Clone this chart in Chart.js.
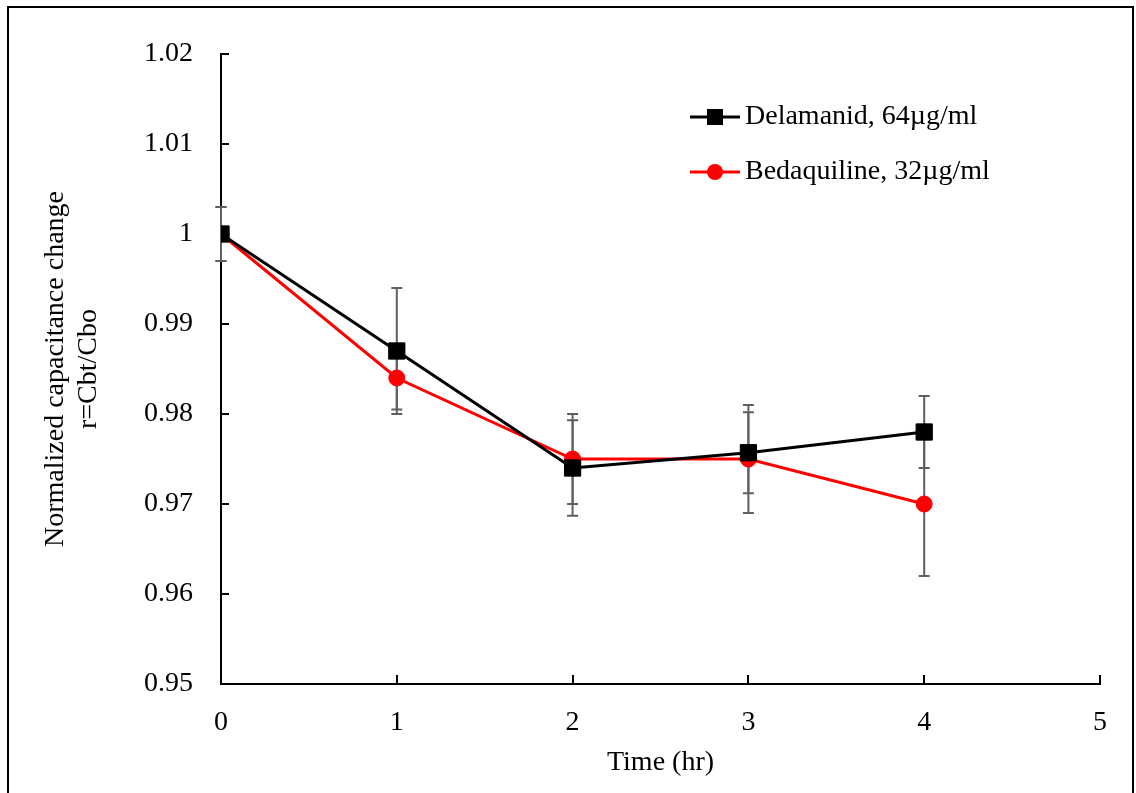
<!DOCTYPE html>
<html>
<head>
<meta charset="utf-8">
<script src="https://cdn.jsdelivr.net/npm/chart.js@4.4.1/dist/chart.umd.min.js"></script>
<style>
  html, body { margin: 0; padding: 0; background: #fff; overflow: hidden; }
  #wrap { position: relative; width: 1136px; height: 793px; }
  #frame { position: absolute; left: 7px; top: 6px; width: 1127px; height: 820px;
           box-sizing: border-box; border: 2.5px solid #000; pointer-events: none; }
</style>
</head>
<body>
<div id="wrap">
  <canvas id="chart" width="1136" height="793"></canvas>
  <div id="frame"></div>
</div>
<script>
// time points (hr)
const times = [0, 1, 2, 3, 4];

// normalized capacitance change r = Cbt/Cbo
const delamanid = [1.000, 0.987, 0.974, 0.9757, 0.978];
const delamanidErr = [0.003, 0.007, 0.0053, 0.0045, 0.004];

const bedaquiline = [1.000, 0.984, 0.975, 0.975, 0.970];
const bedaquilineErr = [0.003, 0.0035, 0.005, 0.006, 0.008];

const seriesLabels = ['Delamanid, 64\u00b5g/ml', 'Bedaquiline, 32\u00b5g/ml'];

const FONT = '"Liberation Serif", "Times New Roman", serif';

const toPoints = (ys) => times.map((t, i) => ({ x: t, y: ys[i] }));

// error bars, drawn under the lines
const errorBars = {
  id: 'errorBars',
  beforeDatasetsDraw(chart) {
    const { ctx, scales: { x, y } } = chart;
    const errs = [delamanidErr, bedaquilineErr];
    ctx.save();
    ctx.strokeStyle = '#5f5f5f';
    ctx.lineWidth = 2;
    chart.data.datasets.forEach((ds, di) => {
      ds.data.forEach((p, i) => {
        const e = errs[di][i];
        if (!e) return;
        const px = x.getPixelForValue(p.x);
        const top = y.getPixelForValue(p.y + e);
        const bot = y.getPixelForValue(p.y - e);
        ctx.beginPath();
        ctx.moveTo(px, top); ctx.lineTo(px, bot);
        ctx.moveTo(px - 5.5, top); ctx.lineTo(px + 5.5, top);
        ctx.moveTo(px - 5.5, bot); ctx.lineTo(px + 5.5, bot);
        ctx.stroke();
      });
    });
    ctx.restore();
  }
};

// tick marks pointing into the plot
const innerTicks = {
  id: 'innerTicks',
  afterDraw(chart) {
    const { ctx, scales: { x, y }, chartArea } = chart;
    ctx.save();
    ctx.strokeStyle = '#000';
    ctx.lineWidth = 2;
    ctx.beginPath();
    y.ticks.forEach(t => {
      const py = Math.round(y.getPixelForValue(t.value));
      ctx.moveTo(chartArea.left, py); ctx.lineTo(chartArea.left + 8, py);
    });
    x.ticks.forEach(t => {
      const px = Math.round(x.getPixelForValue(t.value));
      ctx.moveTo(px, chartArea.bottom); ctx.lineTo(px, chartArea.bottom - 9);
    });
    ctx.stroke();
    ctx.restore();
  }
};

// legend: line with marker, then label
const lineLegend = {
  id: 'lineLegend',
  afterDraw(chart) {
    const { ctx } = chart;
    const rows = [117, 172];
    ctx.save();
    chart.data.datasets.forEach((ds, i) => {
      const yy = rows[i];
      ctx.strokeStyle = ds.borderColor;
      ctx.lineWidth = 3;
      ctx.beginPath();
      ctx.moveTo(690, yy); ctx.lineTo(740, yy);
      ctx.stroke();
      ctx.fillStyle = ds.pointBackgroundColor;
      if (ds.pointStyle === 'rect') {
        ctx.fillRect(715 - 8, yy - 8, 16, 16);
      } else {
        ctx.beginPath();
        ctx.arc(715, yy, 8, 0, Math.PI * 2);
        ctx.fill();
      }
      ctx.fillStyle = '#000';
      ctx.font = '28px ' + FONT;
      ctx.textBaseline = 'middle';
      ctx.fillText(seriesLabels[i], 745, yy);
    });
    ctx.restore();
  }
};

new Chart(document.getElementById('chart').getContext('2d'), {
  type: 'scatter',
  data: {
    datasets: [
      {
        label: seriesLabels[0],
        data: toPoints(delamanid),
        showLine: true,
        borderColor: '#000000',
        backgroundColor: '#000000',
        pointBackgroundColor: '#000000',
        pointBorderColor: '#000000',
        borderWidth: 3,
        pointStyle: 'rect',
        pointRadius: 11.5,
        pointBorderWidth: 1,
      },
      {
        label: seriesLabels[1],
        data: toPoints(bedaquiline),
        showLine: true,
        borderColor: '#ff0000',
        backgroundColor: '#ff0000',
        pointBackgroundColor: '#ff0000',
        pointBorderColor: '#ff0000',
        borderWidth: 3,
        pointStyle: 'circle',
        pointRadius: 8,
        pointBorderWidth: 1,
      },
    ],
  },
  options: {
    responsive: false,
    animation: false,
    layout: { padding: { left: 0, top: 54, right: 36, bottom: 0 } },
    plugins: {
      legend: { display: false },
      tooltip: { enabled: false },
    },
    scales: {
      x: {
        type: 'linear',
        min: 0,
        max: 5,
        ticks: {
          stepSize: 1,
          color: '#000',
          padding: 22,
          font: { family: FONT, size: 28 },
        },
        grid: { display: false, drawTicks: false },
        border: { display: true, color: '#000', width: 2 },
        title: {
          display: true,
          text: 'Time (hr)',
          color: '#000',
          font: { family: FONT, size: 28 },
          padding: { top: 6, bottom: 14 },
        },
        afterFit: (s) => { s.height = 793 - 684; },
      },
      y: {
        type: 'linear',
        min: 0.95,
        max: 1.02,
        ticks: {
          stepSize: 0.01,
          color: '#000',
          padding: 28,
          font: { family: FONT, size: 28 },
          callback: (v) => String(Number(v.toFixed(2))),
        },
        grid: { display: false, drawTicks: false },
        border: { display: true, color: '#000', width: 2 },
        title: {
          display: true,
          text: ['Normalized capacitance change', 'r=Cbt/Cbo'],
          color: '#000',
          font: { family: FONT, size: 28, lineHeight: 1.18 },
          padding: { top: 39, bottom: 0 },
        },
        afterFit: (s) => { s.width = 221; },
      },
    },
  },
  plugins: [errorBars, innerTicks, lineLegend],
});
</script>
</body>
</html>
